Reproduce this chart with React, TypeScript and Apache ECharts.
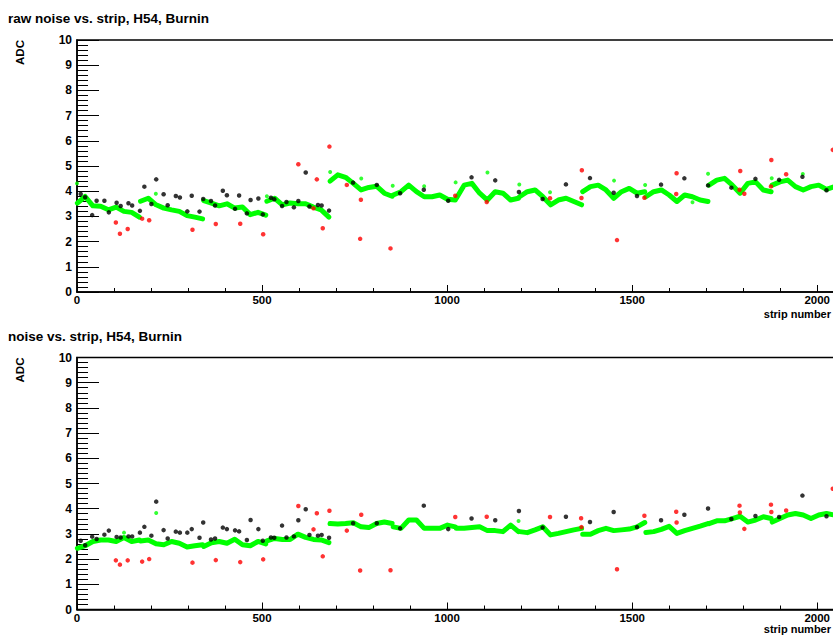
import React, { useEffect, useRef } from "react";
import * as echarts from "echarts";

// ---------- data ----------
const N_STRIPS = 2048;
const N_SEG = 12;

const xMajorTicks = [0, 500, 1000, 1500, 2000];
const yTicks = [0, 1, 2, 3, 4, 5, 6, 7, 8, 9, 10];

// green band: per segment (12 segments of 2048/12 strips), 9 samples each
const rawGreen: number[][] = [
  [3.53, 3.79, 3.42, 3.4, 3.26, 3.37, 3.2, 3.16, 2.97],
  [3.6, 3.72, 3.46, 3.33, 3.26, 3.2, 3.03, 2.97, 2.9],
  [3.63, 3.53, 3.42, 3.5, 3.33, 3.37, 3.07, 3.16, 3.05],
  [3.6, 3.72, 3.46, 3.53, 3.5, 3.5, 3.37, 3.26, 2.97],
  [4.4, 4.65, 4.55, 4.31, 4.05, 4.15, 4.2, 3.92, 3.8],
  [3.85, 3.98, 4.24, 3.98, 3.78, 3.78, 3.85, 3.68, 3.65],
  [3.72, 4.24, 4.31, 3.92, 3.65, 3.98, 3.92, 3.65, 3.72],
  [3.78, 3.98, 4.05, 3.78, 3.46, 3.65, 3.72, 3.59, 3.46],
  [3.98, 4.18, 4.24, 4.05, 3.72, 3.98, 4.11, 3.92, 3.98],
  [3.78, 3.98, 4.05, 3.85, 3.59, 3.85, 3.78, 3.65, 3.59],
  [4.24, 4.44, 4.51, 4.24, 3.92, 4.31, 4.37, 4.05, 3.98],
  [4.24, 4.37, 4.44, 4.18, 4.05, 4.18, 4.24, 4.07, 4.18],
];

const rawGreenStray: number[][] = [
  [0, 4.31], [213, 3.9], [513, 3.8], [684, 4.76], [768, 4.5], [853, 4.22],
  [938, 4.2], [1023, 4.35], [1109, 4.74], [1195, 4.27], [1278, 3.96],
  [1451, 4.42], [1535, 4.25], [1663, 3.56], [1705, 4.69], [1877, 4.51], [1961, 4.68],
];

const rawBlack: number[][] = [
  [10, 3.89], [22, 3.76], [41, 3.05], [53, 3.62], [74, 3.62], [86, 3.16], [107, 3.54],
  [118, 3.41], [139, 3.52], [149, 3.43], [170, 3.22], [182, 4.18], [201, 3.49], [214, 4.47],
  [234, 3.88], [245, 3.44], [267, 3.81], [278, 3.75], [298, 3.2], [310, 3.82], [331, 3.19],
  [341, 3.69], [362, 3.61], [373, 3.43], [394, 4.02], [405, 3.84], [427, 3.3], [438, 3.83],
  [459, 3.12], [469, 3.65], [490, 3.71], [502, 3.08], [524, 3.74], [533, 3.68], [554, 3.41],
  [566, 3.57], [586, 3.36], [598, 3.61], [618, 4.74], [628, 3.39], [651, 3.45], [661, 3.43],
  [681, 3.23], [746, 4.34], [810, 4.25], [873, 3.92], [937, 4.06], [1003, 3.62], [1066, 4.55],
  [1130, 4.43], [1194, 3.97], [1258, 3.69], [1321, 4.27], [1386, 4.52], [1450, 3.94],
  [1513, 3.81], [1578, 4.26], [1641, 4.51], [1705, 4.23], [1768, 4.14], [1833, 4.49],
  [1897, 4.45], [1960, 4.57], [2025, 4.04],
];

const rawRed: number[][] = [
  [105, 2.76], [116, 2.31], [137, 2.5], [176, 2.91], [195, 2.85], [312, 2.47], [375, 2.7],
  [441, 2.71], [503, 2.29], [598, 5.07], [639, 3.32], [648, 4.47], [664, 2.53], [682, 5.77],
  [729, 4.25], [765, 2.11], [767, 3.66], [847, 1.73], [1022, 3.82], [1107, 3.57], [1278, 3.72],
  [1363, 3.73], [1364, 4.83], [1459, 2.06], [1533, 3.74], [1619, 3.89], [1620, 4.71],
  [1790, 4.06], [1792, 4.8], [1803, 3.9], [1875, 4.19], [1876, 5.24], [1916, 4.67], [2042, 5.64],
];

const noiseGreen: number[][] = [
  [2.43, 2.53, 2.7, 2.76, 2.76, 2.7, 2.86, 2.7, 2.76],
  [2.72, 2.76, 2.61, 2.57, 2.7, 2.63, 2.48, 2.53, 2.57],
  [2.5, 2.65, 2.7, 2.63, 2.79, 2.57, 2.53, 2.7, 2.6],
  [2.72, 2.82, 2.78, 2.78, 2.99, 2.86, 2.78, 2.76, 2.65],
  [3.41, 3.39, 3.41, 3.44, 3.28, 3.25, 3.41, 3.47, 3.41],
  [3.28, 3.22, 3.55, 3.55, 3.22, 3.22, 3.22, 3.35, 3.28],
  [3.22, 3.22, 3.25, 3.28, 3.13, 3.13, 3.09, 3.35, 3.09],
  [3.09, 3.05, 3.16, 3.28, 2.96, 3.02, 3.09, 3.16, 3.22],
  [2.99, 2.99, 3.13, 3.22, 3.13, 3.16, 3.19, 3.28, 3.45],
  [3.06, 3.09, 3.18, 3.3, 3.02, 3.13, 3.22, 3.31, 3.41],
  [3.41, 3.52, 3.52, 3.61, 3.7, 3.47, 3.55, 3.68, 3.61],
  [3.47, 3.61, 3.75, 3.81, 3.75, 3.61, 3.75, 3.81, 3.75],
];

const noiseGreenStray: number[][] = [[127, 3.05], [214, 3.83], [1193, 3.51]];

const noiseBlack: number[][] = [
  [10, 2.73], [22, 2.55], [41, 2.89], [53, 2.8], [74, 2.97], [86, 3.13], [107, 2.88],
  [118, 2.86], [139, 2.9], [149, 2.9], [170, 3.05], [182, 3.28], [201, 2.93], [214, 4.28],
  [234, 3.15], [245, 2.82], [267, 3.09], [278, 3.05], [298, 3.05], [310, 3.19], [331, 2.85],
  [341, 3.45], [362, 2.78], [373, 2.82], [394, 3.25], [405, 3.19], [427, 3.14], [438, 3.1],
  [459, 2.76], [469, 3.55], [490, 3.19], [502, 2.73], [524, 2.86], [533, 2.85], [554, 3.33],
  [566, 2.86], [586, 2.9], [598, 3.54], [618, 3.98], [628, 2.96], [651, 2.93], [661, 2.96],
  [681, 2.85], [746, 3.42], [810, 3.42], [873, 3.22], [937, 4.12], [1003, 3.19], [1066, 3.61],
  [1130, 3.54], [1194, 3.91], [1258, 3.25], [1321, 3.68], [1386, 3.47], [1450, 3.87],
  [1513, 3.27], [1578, 3.54], [1641, 3.76], [1705, 4.01], [1768, 3.59], [1833, 3.71],
  [1897, 3.67], [1960, 4.52], [2025, 3.7],
];

const noiseRed: number[][] = [
  [105, 1.95], [116, 1.78], [137, 1.95], [176, 1.9], [195, 2.0], [312, 1.86], [375, 1.96],
  [441, 1.88], [503, 1.99], [598, 4.11], [639, 3.18], [648, 3.82], [664, 2.11], [682, 3.92],
  [729, 3.13], [765, 1.55], [768, 3.76], [847, 1.56], [1022, 3.67], [1107, 3.68], [1278, 3.67],
  [1362, 3.62], [1363, 3.27], [1459, 1.6], [1533, 3.72], [1619, 3.88], [1620, 3.45],
  [1790, 4.12], [1791, 3.85], [1803, 3.2], [1875, 4.16], [1876, 3.87], [1916, 3.93], [2042, 4.79],
];

const titles = ["raw noise vs. strip, H54, Burnin", "noise vs. strip, H54, Burnin"];

// ---------- layout ----------
const FONT = "Liberation Sans, Arial, Helvetica, sans-serif";
const PAD_H = 317.5;
const FRAME_TOP = 40;
const FRAME_H = 252;
const FRAME_LEFT = 77;
const FRAME_W = 758;
const GREEN = "#00ff00";

function segSeries(segs: number[][], gridIdx: number) {
  const segW = N_STRIPS / N_SEG;
  return segs.map((vals, k) => ({
    type: "line",
    xAxisIndex: gridIdx * 2,
    yAxisIndex: gridIdx,
    showSymbol: false,
    symbol: "none",
    lineStyle: { color: GREEN, width: 5, join: "round", cap: "round" },
    data: vals.map((v, i) => [k * segW + 1 + (i * (segW - 3)) / (vals.length - 1), v]),
    z: 2,
  }));
}

function dots(data: number[][], color: string, gridIdx: number, size: number, z: number) {
  return {
    type: "scatter",
    xAxisIndex: gridIdx * 2,
    yAxisIndex: gridIdx,
    symbol: "circle",
    symbolSize: size,
    itemStyle: { color },
    data,
    z,
  };
}

export default function App() {
  const ref = useRef<HTMLDivElement>(null);
  useEffect(() => {
    if (!ref.current) return;
    const chart = echarts.init(ref.current, null, { renderer: "svg" });

    const grids = [0, 1].map((i) => ({
      left: FRAME_LEFT,
      top: FRAME_TOP + i * PAD_H,
      width: FRAME_W,
      height: FRAME_H,
      show: true,
      borderColor: "#000",
      borderWidth: 1.5,
      backgroundColor: "transparent",
      containLabel: false,
    }));

    const labelStyle = {
      color: "#000",
      fontFamily: FONT,
      fontWeight: "bold",
      fontSize: 11.5,
    };

    const xAxes: any[] = [];
    [0, 1].forEach((i) => {
      xAxes.push({
        type: "value",
        gridIndex: i,
        position: "bottom",
        min: xMajorTicks[0],
        max: N_STRIPS,
        interval: xMajorTicks[1] - xMajorTicks[0],
        axisLine: { show: true, onZero: false, lineStyle: { color: "#000", width: 1.5 } },
        axisTick: { show: true, inside: true, length: 7, lineStyle: { color: "#000", width: 1 } },
        axisLabel: {
          show: true,
          showMaxLabel: false,
          margin: 2,
          formatter: (v: number) => String(v),
          ...labelStyle,
        },
        splitLine: { show: false },
      });
      xAxes.push({
        type: "value",
        gridIndex: i,
        position: "bottom",
        min: 0,
        max: N_STRIPS,
        interval: 100,
        axisLine: { show: false },
        axisTick: { show: true, inside: true, length: 4, lineStyle: { color: "#000", width: 1 } },
        axisLabel: { show: false },
        splitLine: { show: false },
      });
    });

    const yAxes = [0, 1].map((i) => ({
      type: "value",
      gridIndex: i,
      position: "left",
      min: yTicks[0],
      max: yTicks[yTicks.length - 1],
      interval: 1,
      axisLine: { show: true, onZero: false, lineStyle: { color: "#000", width: 1.5 } },
      axisTick: { show: true, inside: true, length: 22, lineStyle: { color: "#000", width: 1 } },
      minorTick: { show: true, splitNumber: 5, length: 11, lineStyle: { color: "#000", width: 1 } },
      axisLabel: {
        margin: 5,
        formatter: (v: number) => String(v),
        ...labelStyle,
        fontSize: 12,
      },
      splitLine: { show: false },
      minorSplitLine: { show: false },
    }));

    const graphics: any[] = [];
    [0, 1].forEach((i) => {
      const off = i * PAD_H;
      graphics.push({
        type: "text",
        x: 8,
        y: 18.5 + off,
        style: {
          text: titles[i],
          fontFamily: FONT,
          fontWeight: "bold",
          fontSize: 13.5,
          fill: "#000",
          align: "left",
          verticalAlign: "middle",
        },
      });
      graphics.push({
        type: "text",
        x: 20,
        y: 52.5 + off,
        rotation: Math.PI / 2,
        style: {
          text: "ADC",
          fontFamily: FONT,
          fontWeight: "bold",
          fontSize: 11.5,
          fill: "#000",
          align: "center",
          verticalAlign: "middle",
        },
      });
      graphics.push({
        type: "text",
        x: 831,
        y: i === 0 ? 313.5 : 629,
        style: {
          text: "strip number",
          fontFamily: FONT,
          fontWeight: "bold",
          fontSize: 11,
          fill: "#000",
          align: "right",
          verticalAlign: "middle",
        },
      });
    });

    const series: any[] = [
      ...segSeries(rawGreen, 0),
      dots(rawGreenStray, GREEN, 0, 4, 3),
      dots(rawBlack, "#000", 0, 4.5, 4),
      dots(rawRed, "#ff0000", 0, 4.5, 5),
      ...segSeries(noiseGreen, 1),
      dots(noiseGreenStray, GREEN, 1, 4, 3),
      dots(noiseBlack, "#000", 1, 4.5, 4),
      dots(noiseRed, "#ff0000", 1, 4.5, 5),
    ];

    chart.setOption({
      animation: false,
      backgroundColor: "#fff",
      grid: grids,
      xAxis: xAxes,
      yAxis: yAxes,
      graphic: graphics,
      series,
    });
    return () => chart.dispose();
  }, []);

  return (
    <div
      style={{
        position: "fixed",
        left: 0,
        top: 0,
        width: 833,
        height: 635,
        overflow: "hidden",
        background: "#fff",
      }}
    >
      <div ref={ref} style={{ width: 840, height: 635 }} />
    </div>
  );
}
